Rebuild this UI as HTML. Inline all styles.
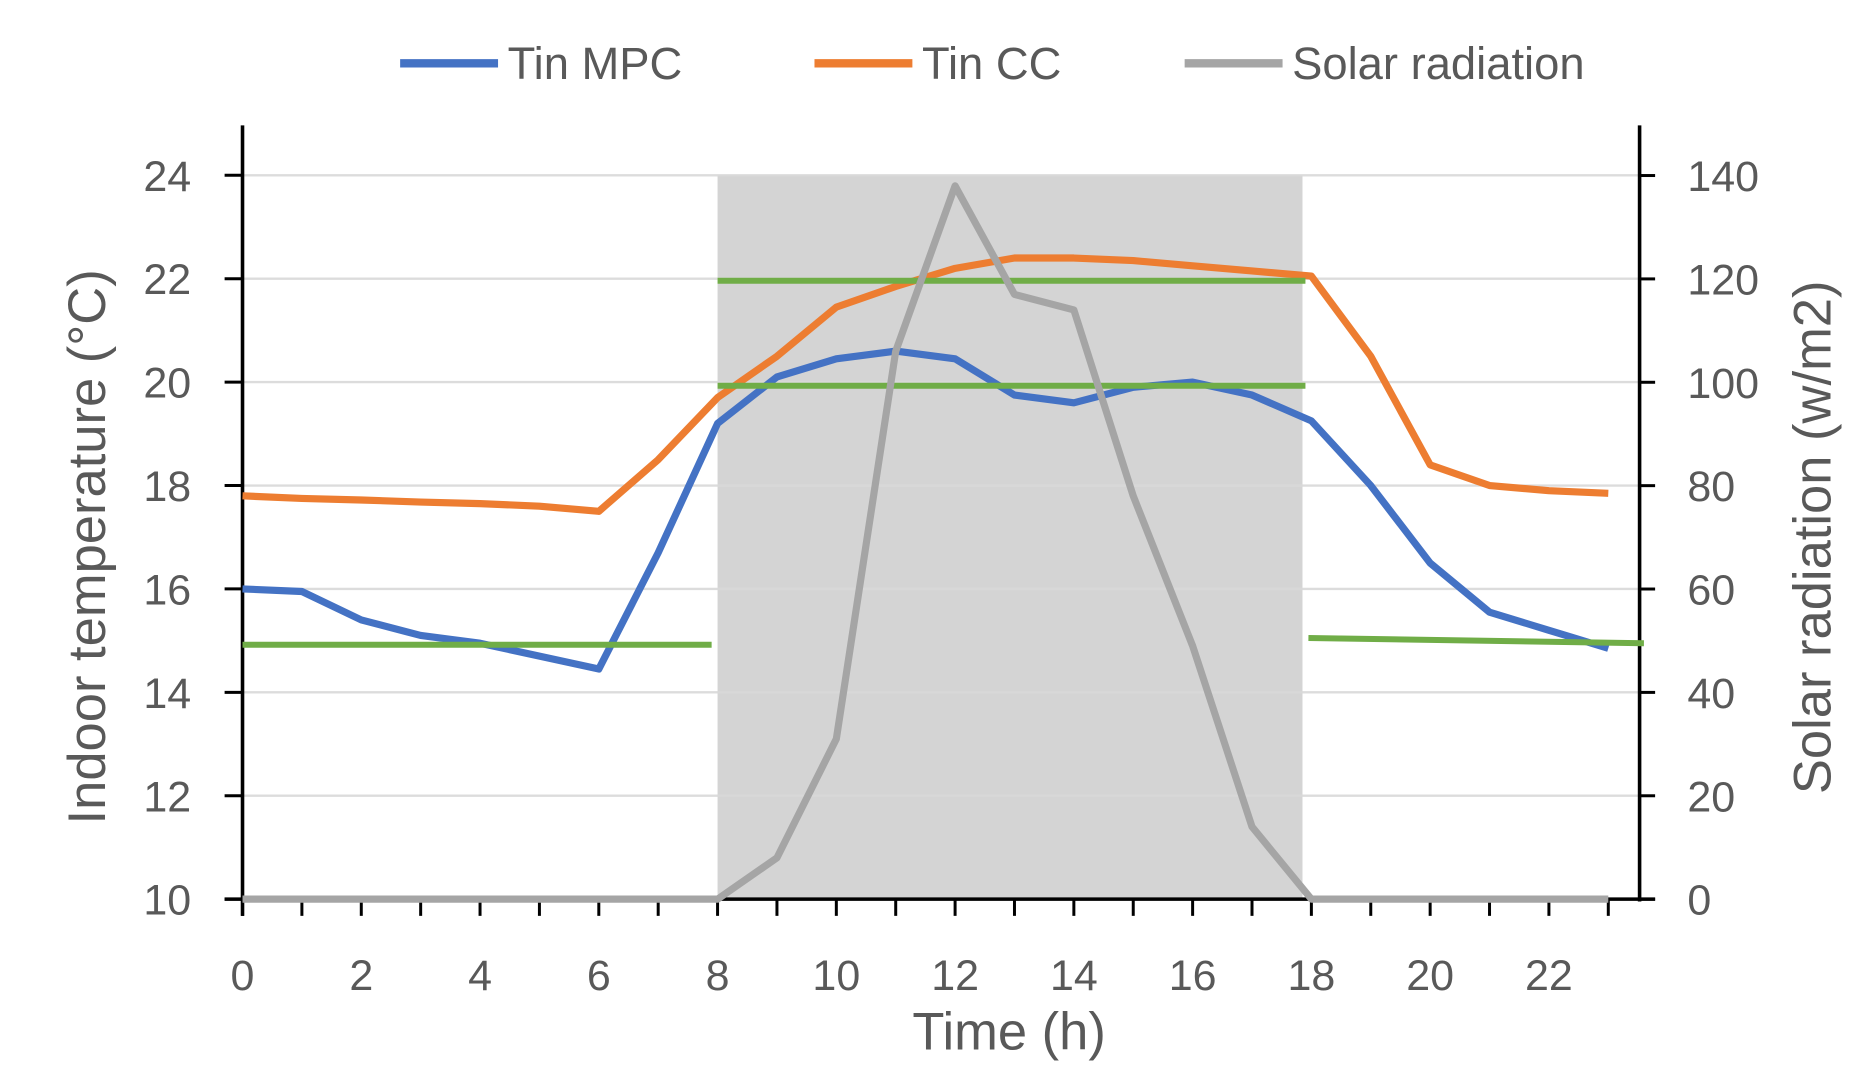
<!DOCTYPE html>
<html><head><meta charset="utf-8"><style>
html,body{margin:0;padding:0;background:#fff}
svg{display:block;font-family:"Liberation Sans",sans-serif}
</style></head><body>
<svg id="chart" width="1863" height="1089" viewBox="0 0 1560 912" xmlns="http://www.w3.org/2000/svg">
<g id="g"></g>
</svg>
<script>
const hours=[0,1,2,3,4,5,6,7,8,9,10,11,12,13,14,15,16,17,18,19,20,21,22,23];
const tinMPC=[16.0,15.95,15.4,15.1,14.95,14.7,14.45,16.7,19.2,20.1,20.45,20.6,20.45,19.75,19.6,19.9,20.0,19.75,19.25,18.0,16.5,15.55,15.2,14.85];
const tinCC=[17.8,17.75,17.72,17.68,17.65,17.6,17.5,18.5,19.7,20.5,21.45,21.85,22.2,22.4,22.4,22.35,22.25,22.15,22.05,20.5,18.4,18.0,17.9,17.85];
const solar=[0,0,0,0,0,0,0,0,0,8,31,106,138,117,114,78,49,14,0,0,0,0,0,0];
const leftTicks=[10,12,14,16,18,20,22,24];
const rightTicks=[0,20,40,60,80,100,120,140];
const xTicks=[0,2,4,6,8,10,12,14,16,18,20,22];
const setpoints=[[0,7.9,14.92,14.92],[8,17.9,21.96,21.96],[8,17.9,19.93,19.93],[17.95,23.6,15.05,14.95]];
const shade=[8,17.85];

const X=h=>203+h*49.73;
const Y=v=>753-(v-10)*43.3;
const Y2=v=>753-v*(606/140);
const NS='http://www.w3.org/2000/svg';
const g=document.getElementById('g');
function mk(t,a,p){const e=document.createElementNS(NS,t);for(const k in a)e.setAttribute(k,a[k]);(p||g).appendChild(e);return e;}

let e;
e=mk('rect',{x:X(shade[0]),y:Y(24),width:X(shade[1])-X(shade[0]),height:Y(10)-Y(24),fill:'#d4d4d4'});


leftTicks.forEach(v=>{
  if(v>10){const l=mk('line',{x1:203,x2:1373,y1:Y(v),y2:Y(v),stroke:'#d9d9d9','stroke-width':2,opacity:0.9});
  
  }
  mk('line',{x1:188,x2:203,y1:Y(v),y2:Y(v),stroke:'#000','stroke-width':2.5});
  const t=mk('text',{x:160,y:Y(v)+13,'text-anchor':'end','font-size':36,fill:'#595959'});t.textContent=v;
  
  
});
rightTicks.forEach(v=>{
  mk('line',{x1:1373,x2:1386,y1:Y2(v),y2:Y2(v),stroke:'#000','stroke-width':2.5});
  const t=mk('text',{x:1413,y:Y2(v)+13,'font-size':36,fill:'#595959'});t.textContent=v;
  
  
});
hours.forEach(h=>mk('line',{x1:X(h),x2:X(h),y1:753,y2:767,stroke:'#000','stroke-width':2.5}));
xTicks.forEach(h=>{const t=mk('text',{x:X(h),y:829,'text-anchor':'middle','font-size':36,fill:'#595959'});t.textContent=h;
  
  });
e=mk('line',{x1:203,x2:203,y1:105,y2:767,stroke:'#000','stroke-width':3});


e=mk('line',{x1:1373,x2:1373,y1:105,y2:755,stroke:'#000','stroke-width':3});


e=mk('line',{x1:188,x2:1386,y1:753,y2:753,stroke:'#000','stroke-width':3});



function line(vals,fy,color,name){
  const p=mk('polyline',{points:vals.map((v,i)=>X(hours[i])+','+fy(v)).join(' '),fill:'none',stroke:color,'stroke-width':6,'stroke-linejoin':'round'});
  
  
}
line(tinCC,Y,'#ed7d31','tin-cc-line');
line(tinMPC,Y,'#4472c4','tin-mpc-line');
setpoints.forEach(s=>{const l=mk('line',{x1:X(s[0]),x2:X(s[1]),y1:Y(s[2]),y2:Y(s[3]),stroke:'#70ad47','stroke-width':5});
  
  });
line(solar,Y2,'#a5a5a5','solar-radiation-line');

e=mk('text',{x:845,y:879,'text-anchor':'middle','font-size':44,fill:'#595959'});e.textContent='Time (h)';


e=mk('text',{transform:'translate(88,458) rotate(-90)','text-anchor':'middle','font-size':44,fill:'#595959'});e.textContent='Indoor temperature (°C)';


e=mk('text',{transform:'translate(1533,450) rotate(-90)','text-anchor':'middle','font-size':44,fill:'#595959','xml:space':'preserve'});e.textContent='Solar radiation  (w/m2)';



const legNames=['Tin MPC','Tin CC','Solar radiation'];
const legColors=['#4472c4','#ed7d31','#a5a5a5'];
const legX=[335,682,992];
legNames.forEach((n,i)=>{
  const lg=mk('g',{});
  
  
  mk('line',{x1:legX[i],x2:legX[i]+82,y1:53,y2:53,stroke:legColors[i],'stroke-width':7},lg);
  const t=mk('text',{x:legX[i]+90,y:66,'font-size':38,fill:'#595959'},lg);t.textContent=n;
});
</script>
</body></html>
